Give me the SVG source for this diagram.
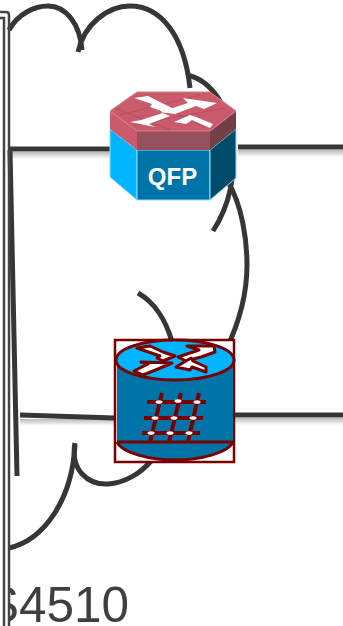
<svg xmlns="http://www.w3.org/2000/svg" width="343" height="626" viewBox="0 0 343 626">
<defs>
<linearGradient id="sh" x1="0" y1="0" x2="0" y2="1"><stop offset="0" stop-color="#bbb"/><stop offset="1" stop-color="#fff"/></linearGradient>
<style>
.c{fill:none;stroke:#363636;stroke-width:5;stroke-linecap:butt}
.b{fill:none;stroke:#444;stroke-width:2.5}
.m{fill:none;stroke:#7a0000;stroke-width:3}
.g{fill:none;stroke:#7a0000;stroke-width:4}
.mw{fill:#fff;stroke:#7a0000;stroke-width:3;stroke-linejoin:round}
.ar{fill:#fff;stroke:none}
.f{stroke:#8fdcf8;stroke-width:1;stroke-linejoin:round}
.t{font-family:"Liberation Sans",Arial,sans-serif}
</style>
</defs>
<rect width="343" height="626" fill="#fff"/>
<text class="t" x="-14" y="622" font-size="49.5" fill="#3f3f3f">S4510</text>
<rect x="0" y="570" width="9" height="56" fill="#fff"/>
<g id="connectors">
<rect x="10" y="152" width="100" height="7" fill="url(#sh)"/>
<rect x="238" y="150" width="105" height="7" fill="url(#sh)"/>
<rect x="20" y="419" width="95" height="7" fill="url(#sh)"/>
<rect x="233" y="418" width="110" height="7" fill="url(#sh)"/>
<path class="c" d="M9 30C18 14 34 6 48 6C66 6 80 24 82 50"/>
<path class="c" d="M78 52C84 24 108 6 130 6C160 6 184 34 190 88"/>
<path class="c" d="M187 75C212 80 230 110 233 140C236 175 230 205 213 231"/>
<path class="c" d="M228 182C242 205 247 240 247 265C247 295 238 325 226 350"/>
<path class="c" d="M138 293C154 302 166 320 172 342"/>
<path class="c" d="M75 443C70 470 88 485 108 484C124 483 140 474 152 460"/>
<path class="c" d="M9 548C44 540 72 500 75 445"/>
<path class="c" d="M10 150L17 476"/>
<path class="c" d="M10 149H110"/>
<path class="c" d="M238 147H343"/>
<path class="c" d="M20 415L115 418"/>
<path class="c" d="M233 415H343"/>
</g>
<g id="frame">
<path class="b" d="M0 12H6Q9 12 9 15V626"/>
<path class="b" d="M0 18H4V626"/>
</g>
<g id="qfp">
<path d="M110 129L137 150V200L110 177Z" fill="#00b4ff" class="f"/>
<path d="M137 150H210V200H137Z" fill="#0073a8" class="f"/>
<path d="M210 150L236 129V178L210 200Z" fill="#004a6c" class="f"/>
<path d="M110 111V129L137 150V131Z" fill="#c95b6c"/>
<path d="M137 131H210V150H137Z" fill="#98505c"/>
<path d="M210 131L236 111V129L210 150Z" fill="#753f48"/>
<path d="M137 92H210L236 111L210 131H137L110 111Z" fill="#c95b6c" stroke="#d8808c" stroke-width="1"/>
<path d="M120 115L200 95M135 125L225 108M140 95L205 128M115 108L170 130" fill="none" stroke="#b04a5c" stroke-width=".8"/>
<path class="ar" d="M134 98L148 96L158 101L172 108L167 113L150 107L152 104Z"/>
<path class="ar" d="M160 112L188 103L183 98L217 103L204 109L196 106L175 114Z"/>
<path class="ar" d="M130 122L141 120L163 113L170 116L149 124L155 127Z"/>
<path class="ar" d="M174 122L190 115L196 117L213 124L210 128L192 120L186 124Z"/>
<text class="t" x="172.500" y="185" font-size="24" font-weight="bold" fill="#fff" text-anchor="middle">QFP</text>
</g>
<g id="router">
<rect x="115" y="340" width="119" height="122" fill="#fff" stroke="#7a0000" stroke-width="2.500"/>
<path d="M117 360V442C120 453 150 460 175 460C200 460 230 453 233 442V360Z" fill="#0073a8"/>
<path class="m" d="M117 442C122 453 150 460 175 460C200 460 228 453 233 442H117"/>
<ellipse cx="175" cy="360" rx="59" ry="20" fill="#00b4ff" stroke="#7a0000" stroke-width="3"/>
<path class="mw" d="M137 348L150 346L163 352L175 356L163 361L157 358L160 356Z"/>
<path class="mw" d="M178 357L199 350L187 346L214 346L215 352L201 357L186 361Z"/>
<path class="mw" d="M134 371L148 364L141 362L172 363L158 369L143 375Z"/>
<path class="mw" d="M176 367L191 358L193 361L206 367L206 372L192 367L190 370Z"/>
<path class="g" d="M147 402H206M144 418H203M142 433H200"/>
<path class="g" d="M162 393L150 442M181 393L169 442M199 393L188 442"/>
<g fill="#fff"><ellipse cx="159" cy="402" rx="3.500" ry="1.800"/><ellipse cx="178" cy="401" rx="3.500" ry="1.800"/><ellipse cx="197" cy="402" rx="3.500" ry="1.800"/><ellipse cx="155" cy="418" rx="3.500" ry="1.800"/><ellipse cx="174" cy="418" rx="3.500" ry="1.800"/><ellipse cx="193" cy="418" rx="3.500" ry="1.800"/><ellipse cx="151" cy="433" rx="3.500" ry="1.800"/><ellipse cx="170" cy="433" rx="3.500" ry="1.800"/><ellipse cx="189" cy="433" rx="3.500" ry="1.800"/></g>
</g>
</svg>
